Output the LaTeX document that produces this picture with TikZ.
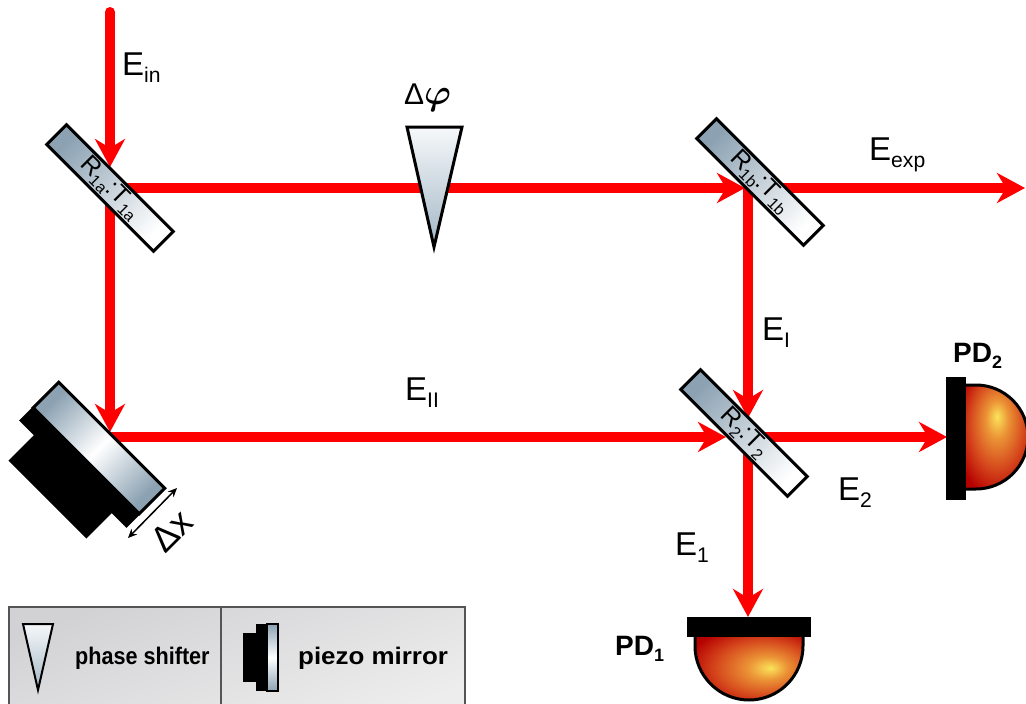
\documentclass[tikz,border=0pt]{standalone}
\usepackage{fontspec}
\setmainfont{Liberation Sans}
\usepackage{graphicx}
\usetikzlibrary{arrows.meta}

\definecolor{beamred}{HTML}{FF0000}
\definecolor{mirrorblue}{HTML}{8CA2B3}
\definecolor{wedgeblue}{HTML}{A3B7C6}
\definecolor{wedgetop}{HTML}{F6F8FA}
\definecolor{legendgray}{HTML}{D2D2D5}
\definecolor{legendlight}{HTML}{EDEDED}
\definecolor{framegray}{HTML}{555555}
\definecolor{pdyellow}{HTML}{FBE35A}
\definecolor{pdorange}{HTML}{EB9436}
\definecolor{pdred}{HTML}{D5461C}
\definecolor{pddark}{HTML}{B50000}

% glowing photodiode body, highlight shifted off centre
\pgfdeclareradialshading{pdglow}{\pgfpoint{0bp}{10bp}}{%
  color(0bp)=(pdyellow); color(9bp)=(pdorange); color(22bp)=(pdred);
  color(34bp)=(pddark); color(60bp)=(pddark)}

% lowered small index
\newcommand\sbs[1]{\raisebox{-0.22em}{\scalebox{0.64}{#1}}}

\begin{document}
\begin{tikzpicture}[x=1pt,y=1pt,
  beam/.style={draw=beamred, line width=10pt},
  ray/.style={beam, -{Stealth[length=28pt,width=30pt,inset=9pt]}},
  splitter/.style={rectangle, draw=black, line width=3pt, inner sep=0pt,
    minimum width=151pt, minimum height=28pt, rotate=-45,
    top color=mirrorblue, bottom color=white, shading angle=45,
    font=\fontsize{25}{25}\selectfont},
  plate/.style={rectangle, draw=black, line width=3pt, inner sep=0pt,
    minimum width=150pt, minimum height=36pt, rotate=-45,
    top color=mirrorblue, bottom color=mirrorblue, middle color=white,
    shading angle=45},
  elabel/.style={inner sep=0pt, anchor=base west, font=\fontsize{33}{33}\selectfont},
  pdlabel/.style={inner sep=0pt, anchor=base west, font=\fontsize{28}{28}\selectfont\bfseries},
  legendtext/.style={inner sep=0pt, anchor=base west, font=\fontsize{24}{24}\selectfont\bfseries},
  wedge/.style={draw=black, line width=3pt, top color=wedgetop, bottom color=wedgeblue},
]
\useasboundingbox (0,0) rectangle (1026,-704);

% beam junctions and end points
\coordinate (src)   at (110,-12);
\coordinate (bs1j)  at (110,-188);
\coordinate (bs1in) at (110,-167);
\coordinate (bs1bj) at (748,-188);
\coordinate (bs1bin) at (745,-188);
\coordinate (out)   at (1025,-188);
\coordinate (pzin)  at (110,-432);
\coordinate (pzj)   at (105,-437);
\coordinate (bs2j)  at (748,-437);
\coordinate (bs2inl) at (726,-437);
\coordinate (bs2int) at (748,-418);
\coordinate (pd2in) at (947,-437);
\coordinate (pd1in) at (748,-617);

% laser beams
\draw[ray, line cap=round] (src) -- (bs1in);
\draw[ray] (bs1j) -- (bs1bin);
\draw[ray] (bs1bj) -- (out);
\draw[ray] (bs1j) -- (pzin);
\draw[ray] (pzj) -- (bs2inl);
\draw[ray] (bs1bj) -- (bs2int);
\draw[ray] (bs2j) -- (pd2in);
\draw[ray] (bs2j) -- (pd1in);

% phase shifter wedge
\draw[wedge] (407,-127) -- (462,-127) -- (434,-247) -- cycle;
\node[inner sep=0pt, anchor=base west, font=\fontsize{30}{30}\selectfont] (dphi) at (404,-104)
  {Δ\scalebox{1.45}{\boldmath$\varphi$}};

% beam splitters
\node[splitter] (bs1)  at (110,-188) {R\sbs{1a}:T\sbs{1a}};
\node[splitter] (bs1b) at (760,-182) {R\sbs{1b}:T\sbs{1b}};
\node[splitter] (bs2)  at (744,-433) {R\sbs{2}:T\sbs{2}};

% piezo mirror: stepped actuator body behind the mirror plate
\begin{scope}[shift={(99,-448)}, rotate=-45]
  \fill[black] (-76,-37) rectangle (76,-17);
  \fill[black] (-55,-73) rectangle (55,-36);
\end{scope}
\node[plate] (piezo) at (99,-448) {};
\coordinate (dxa) at (128,-538);
\coordinate (dxb) at (177,-488);
\draw[line width=1.5pt, {Stealth[length=9pt,width=8pt]}-{Stealth[length=9pt,width=8pt]}] (dxa) -- (dxb);
\node[inner sep=0pt, rotate=45, font=\fontsize{36}{36}\selectfont] (dx) at (172,-531) {Δx};

% photodiode 1
\path[shading=pdglow, shading angle=-90] (695,-636) -- (695,-646)
  arc[start angle=180, end angle=360, radius=54] -- (803,-636) -- cycle;
\draw[line width=3pt] (695,-636) -- (695,-646)
  arc[start angle=180, end angle=360, radius=54] -- (803,-636);
\fill[black] (687,-617) rectangle (811,-637);
\node[pdlabel] (pd1) at (615,-655) {PD\sbs{1}};

% photodiode 2
\path[shading=pdglow] (966,-385) -- (976,-385)
  arc[start angle=90, end angle=-90, radius=52] -- (966,-489) -- cycle;
\draw[line width=3pt] (966,-385) -- (976,-385)
  arc[start angle=90, end angle=-90, radius=52] -- (966,-489);
\fill[black] (946,-377) rectangle (966,-500);
\node[pdlabel] (pd2) at (953,-362) {PD\sbs{2}};

% field labels
\node[elabel] (ein)  at (122,-75)  {E\sbs{in}};
\node[elabel] (eexp) at (869,-160) {E\sbs{exp}};
\node[elabel] (ei)   at (762,-340) {E\sbs{I}};
\node[elabel] (eii)  at (405,-400) {E\sbs{II}};
\node[elabel] (e2)   at (838,-500) {E\sbs{2}};
\node[elabel] (e1)   at (675,-555) {E\sbs{1}};

% legend
\draw[draw=framegray, line width=1.5pt, top color=legendgray, bottom color=legendlight, shading angle=20]
  (9,-607) rectangle (465,-716);
\draw[draw=framegray, line width=1.5pt] (221,-607) -- (221,-716);
\draw[draw=black, line width=2pt, top color=wedgetop, bottom color=wedgeblue]
  (23,-624) -- (53,-624) -- (38,-690) -- cycle;
\node[legendtext] (lps) at (75,-664) {\scalebox{0.9}[1]{phase shifter}};
\fill[black] (243,-633) rectangle (258,-682);
\fill[black] (256,-624) rectangle (268,-691);
\draw[draw=black, line width=1.5pt, top color=mirrorblue, bottom color=mirrorblue, middle color=white]
  (267,-624) rectangle (278,-691);
\node[legendtext] (lpm) at (298,-664) {\scalebox{1.08}[1]{piezo mirror}};
\end{tikzpicture}
\end{document}
